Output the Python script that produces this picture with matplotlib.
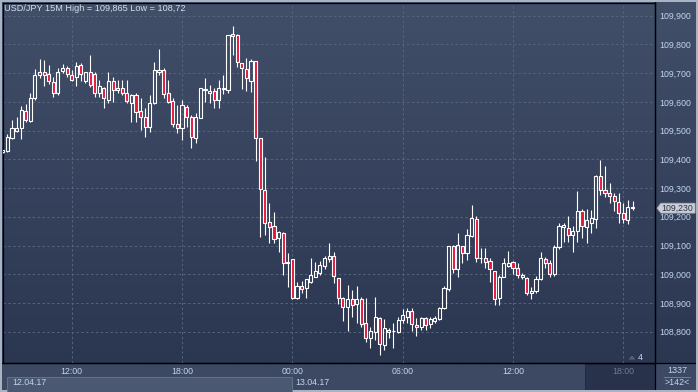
import matplotlib
matplotlib.use('Agg')
import matplotlib.pyplot as plt
import matplotlib.patches as mpatches
import numpy as np

# USD/JPY 15M candles, 12.04.17 08:15 -> 13.04.17 18:30
opens = [109.425, 109.430, 109.473, 109.500, 109.508, 109.568, 109.535, 109.613, 109.694, 109.705,
         109.696, 109.668, 109.630, 109.709, 109.719, 109.694, 109.686, 109.729, 109.671, 109.703,
         109.696, 109.630, 109.650, 109.607, 109.674, 109.642, 109.647, 109.630, 109.595, 109.624,
         109.568, 109.546, 109.514, 109.595, 109.705, 109.711, 109.630, 109.603, 109.522, 109.510,
         109.581, 109.546, 109.473, 109.543, 109.641, 109.632, 109.638, 109.607, 109.644, 109.641,
         109.835, 109.833, 109.737, 109.716, 109.674, 109.742, 109.473, 109.293, 109.183, 109.168,
         109.125, 109.142, 109.038, 109.053, 108.916, 108.959, 108.951, 108.974, 108.991, 109.005,
         109.029, 109.052, 109.062, 108.986, 108.916, 108.885, 108.913, 108.896, 108.914, 108.831,
         108.777, 108.800, 108.847, 108.754, 108.806, 108.802, 108.800, 108.841, 108.852, 108.872,
         108.823, 108.818, 108.849, 108.826, 108.838, 108.843, 108.881, 108.948, 109.098, 109.017,
         109.098, 109.073, 109.134, 109.191, 109.055, 109.055, 109.046, 109.011, 108.918, 108.992,
         109.030, 109.042, 109.021, 108.992, 108.986, 108.933, 108.942, 108.982, 109.052, 109.038,
         109.001, 109.096, 109.166, 109.160, 109.137, 109.152, 109.221, 109.166, 109.180, 109.191,
         109.342, 109.293, 109.282, 109.272, 109.250, 109.212, 109.189, 109.233]
highs = [109.434, 109.487, 109.537, 109.549, 109.584, 109.592, 109.630, 109.713, 109.749, 109.746,
         109.729, 109.688, 109.717, 109.731, 109.725, 109.711, 109.740, 109.734, 109.705, 109.763,
         109.703, 109.676, 109.653, 109.703, 109.688, 109.676, 109.676, 109.676, 109.627, 109.630,
         109.612, 109.578, 109.624, 109.740, 109.783, 109.717, 109.676, 109.615, 109.589, 109.607,
         109.589, 109.554, 109.560, 109.650, 109.682, 109.659, 109.649, 109.676, 109.694, 109.833,
         109.865, 109.838, 109.737, 109.751, 109.749, 109.742, 109.473, 109.409, 109.249, 109.218,
         109.150, 109.148, 109.075, 109.053, 108.974, 108.976, 108.982, 109.058, 109.044, 109.047,
         109.063, 109.110, 109.078, 108.986, 108.922, 108.963, 108.945, 108.959, 108.922, 108.918,
         108.818, 108.922, 108.850, 108.843, 108.814, 108.831, 108.850, 108.878, 108.884, 108.881,
         108.849, 108.852, 108.852, 108.850, 108.855, 108.887, 108.959, 109.098, 109.102, 109.145,
         109.098, 109.158, 109.241, 109.203, 109.090, 109.090, 109.055, 109.011, 108.997, 109.055,
         109.081, 109.046, 109.038, 109.006, 108.989, 108.957, 108.994, 109.079, 109.061, 109.050,
         109.102, 109.180, 109.180, 109.203, 109.168, 109.291, 109.226, 109.226, 109.224, 109.345,
         109.398, 109.377, 109.316, 109.284, 109.282, 109.247, 109.258, 109.256]
lows = [109.423, 109.427, 109.471, 109.496, 109.472, 109.531, 109.531, 109.607, 109.682, 109.657,
        109.662, 109.616, 109.624, 109.700, 109.686, 109.671, 109.657, 109.674, 109.665, 109.653,
        109.618, 109.616, 109.578, 109.595, 109.601, 109.630, 109.624, 109.595, 109.531, 109.531,
        109.502, 109.479, 109.496, 109.592, 109.694, 109.612, 109.595, 109.514, 109.491, 109.467,
        109.514, 109.438, 109.456, 109.543, 109.601, 109.595, 109.578, 109.578, 109.627, 109.630,
        109.763, 109.721, 109.645, 109.639, 109.635, 109.395, 109.131, 109.136, 109.110, 109.110,
        109.078, 108.997, 108.957, 108.913, 108.913, 108.936, 108.918, 108.968, 108.989, 108.997,
        109.017, 109.044, 108.970, 108.896, 108.838, 108.804, 108.852, 108.829, 108.818, 108.765,
        108.742, 108.771, 108.720, 108.736, 108.777, 108.742, 108.797, 108.829, 108.829, 108.804,
        108.785, 108.806, 108.806, 108.812, 108.829, 108.840, 108.880, 108.942, 109.006, 108.989,
        109.038, 109.050, 109.131, 109.044, 109.040, 109.021, 108.974, 108.893, 108.893, 108.989,
        109.024, 109.001, 108.986, 108.982, 108.926, 108.914, 108.934, 108.980, 109.021, 108.992,
        108.994, 109.087, 109.113, 109.113, 109.079, 109.113, 109.125, 109.110, 109.142, 109.160,
        109.276, 109.270, 109.247, 109.221, 109.180, 109.180, 109.175, 109.224]
closes = [109.432, 109.476, 109.508, 109.508, 109.570, 109.537, 109.613, 109.694, 109.703, 109.694,
          109.671, 109.630, 109.705, 109.719, 109.696, 109.676, 109.726, 109.696, 109.703, 109.659,
          109.630, 109.657, 109.613, 109.674, 109.642, 109.650, 109.632, 109.603, 109.624, 109.566,
          109.548, 109.514, 109.595, 109.711, 109.711, 109.626, 109.601, 109.522, 109.508, 109.589,
          109.548, 109.476, 109.546, 109.647, 109.644, 109.638, 109.607, 109.647, 109.649, 109.833,
          109.829, 109.738, 109.719, 109.682, 109.742, 109.473, 109.295, 109.179, 109.165, 109.121,
          109.148, 109.038, 109.041, 108.916, 108.959, 108.947, 108.982, 108.997, 109.011, 109.032,
          109.058, 109.063, 108.994, 108.916, 108.887, 108.913, 108.893, 108.913, 108.826, 108.777,
          108.802, 108.850, 108.756, 108.812, 108.800, 108.803, 108.841, 108.858, 108.872, 108.826,
          108.815, 108.847, 108.823, 108.843, 108.847, 108.884, 108.953, 109.098, 109.017, 109.102,
          109.073, 109.137, 109.195, 109.055, 109.056, 109.042, 109.017, 108.914, 108.990, 109.038,
          109.038, 109.021, 108.997, 108.997, 108.933, 108.942, 108.982, 109.055, 109.038, 109.001,
          109.096, 109.168, 109.171, 109.137, 109.152, 109.221, 109.168, 109.189, 109.195, 109.342,
          109.293, 109.282, 109.272, 109.256, 109.212, 109.191, 109.235, 109.230]

price_levels = [108.8, 108.9, 109.0, 109.1, 109.2, 109.3, 109.4, 109.5, 109.6, 109.7, 109.8, 109.9]
time_ticks = [15, 39, 63, 87, 111, 135]
time_labels = ['12:00', '18:00', '00:00', '06:00', '12:00', '18:00']
last_price = 109.230

W, H = 698, 392
plt.rcParams['font.family'] = ['Liberation Sans', 'DejaVu Sans']
txt_col = '#c2d5ee'

fig = plt.figure(figsize=(W / 100, H / 100), dpi=100)
fig.patch.set_facecolor('#3d4962')

# background layer, pixel coordinates
bg = fig.add_axes([0, 0, 1, 1])
bg.axis('off')
top = np.array([0x42, 0x4f, 0x69]) / 255
bot = np.array([0x2b, 0x36, 0x51]) / 255
t = np.linspace(0, 1, 256)[:, None, None]
grad = top + (bot - top) * t
bg.imshow(grad, extent=(0, W, 363, 0), aspect='auto', zorder=0)
bg.add_patch(mpatches.Rectangle((0, 363), W, 29, fc='#3d4962', ec='none', zorder=1))
bg.add_patch(mpatches.Rectangle((585, 364), 70, 28, fc='#28334b', ec='#1f2840', lw=0.6, zorder=2))
bg.plot([655, 655], [0, H], color='black', lw=0.9, zorder=3)
bg.plot([0, W], [363, 363], color='black', lw=0.9, zorder=3)
bg.text(4, 8, 'USD/JPY 15M High = 109,865 Low = 108,72', fontsize=6.6, color='#d6dde9',
        va='center', ha='left', zorder=4)
bg.text(677, 370.5, '1337', fontsize=6.4, color=txt_col, ha='center', va='center', zorder=4)
bg.plot([664, 690], [376.5, 376.5], color='#7d8aa0', lw=0.6, zorder=4)
bg.text(677, 382.5, '>142<', fontsize=6.4, color=txt_col, ha='center', va='center', zorder=4)
bg.add_patch(mpatches.Polygon([(628.5, 359.5), (635.5, 359.5), (632, 355.5)], fc='#56627a', ec='none', zorder=4))
bg.text(637.5, 358, '4', fontsize=6.6, color=txt_col, ha='left', va='center', zorder=4)
# outer frame
frame = '#a9b3c4'
for r in [(0, 0, W, 2), (0, 0, 2.2, H), (0, 389.5, W, 3), (695.8, 0, 3, H)]:
    bg.add_patch(mpatches.Rectangle(r[:2], r[2], r[3], fc=frame, ec='none', zorder=6))
bg.set_xlim(0, W)
bg.set_ylim(H, 0)

# main chart
ax = fig.add_axes([3 / W, (H - 363) / H, 652 / W, 360 / H])
ax.set_facecolor('none')
ax.set_xlim(0.055, 141.89)
ax.set_ylim(108.691, 109.9442)

x = np.arange(len(opens))
o = np.array(opens)
c = np.array(closes)
body_top = np.maximum(o, c)
body_bot = np.minimum(o, c)
ax.vlines(x, body_top, highs, color='white', lw=0.8, zorder=3)
ax.vlines(x, lows, body_bot, color='white', lw=0.8, zorder=3)
faces = ['none' if cc >= oo else '#e3163c' for oo, cc in zip(opens, closes)]
ax.bar(x, np.maximum(body_top - body_bot, 0.0018), bottom=body_bot, width=0.68,
       color=faces, edgecolor='white', linewidth=0.8, zorder=4)

ax.set_yticks(price_levels)
ax.set_yticklabels([f'{v:.3f}'.replace('.', ',') for v in price_levels])
ax.yaxis.tick_right()
ax.tick_params(axis='y', length=0, pad=3, labelsize=6.3, labelcolor=txt_col)
ax.set_xticks(time_ticks)
ax.set_xticklabels(time_labels)
ax.tick_params(axis='x', length=0, pad=3.2, labelsize=6.3, labelcolor=txt_col)
ax.get_xticklabels()[-1].set_color('#6d7990')
ax.set_axisbelow(True)
ax.grid(True, color='#56657f', linestyle=(0, (2.5, 2.5)), lw=0.7)
for s in ax.spines.values():
    s.set_color('black')
    s.set_linewidth(0.9)

# date boxes under the time axis
xt = ax.get_xaxis_transform()
ax.add_patch(mpatches.Rectangle((0.9, -0.08), 63 - 0.9, 0.041, transform=xt, clip_on=False,
                                fc='#4b5872', ec='#6b7891', lw=0.6, zorder=1))
ax.text(2.0, -0.0545, '12.04.17', transform=xt, fontsize=6.3, color=txt_col,
        ha='left', va='center', clip_on=False)
ax.text(63.7, -0.0545, '13.04.17', transform=xt, fontsize=6.3, color=txt_col,
        ha='left', va='center', clip_on=False)

# last price tag
yt = ax.get_yaxis_transform()
hh = 5 / 287.27
ax.add_patch(mpatches.Polygon([(1.003, last_price), (1.009, last_price + hh), (1.0615, last_price + hh),
                               (1.0615, last_price - hh), (1.009, last_price - hh)],
                              transform=yt, clip_on=False, fc='#c9ced7', ec='#9aa3b2', lw=0.5, zorder=5))
ax.text(1.0095, last_price, '109,230', transform=yt, fontsize=6.3, color='#2a3040',
        ha='left', va='center', clip_on=False, zorder=6)

fig.savefig('out.png', dpi=100, facecolor=fig.get_facecolor())
